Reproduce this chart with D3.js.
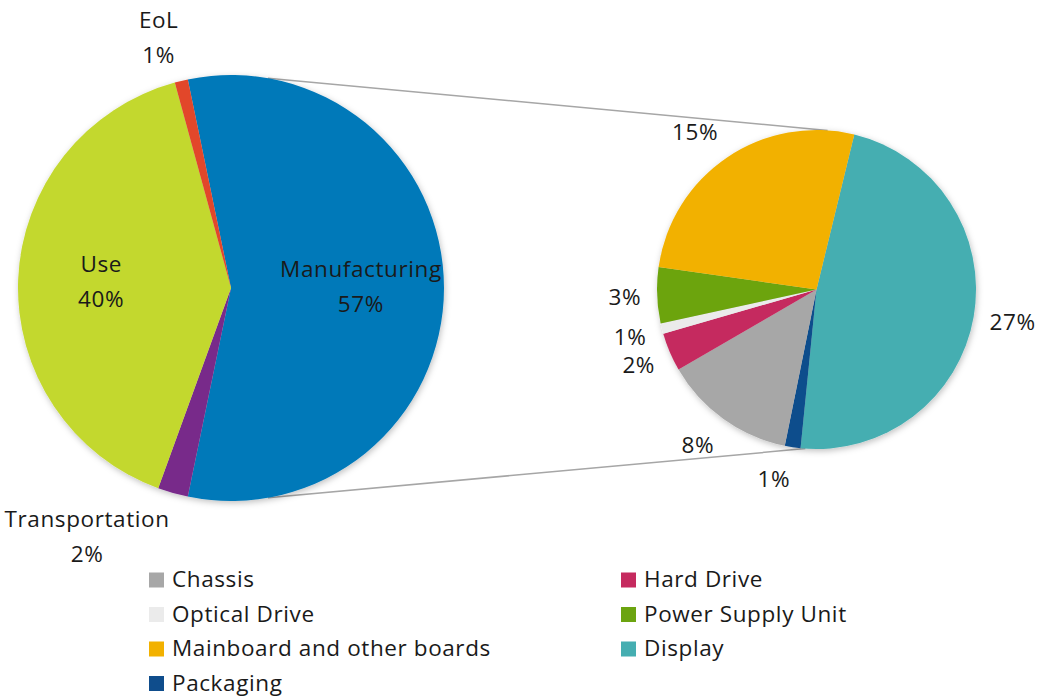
<!DOCTYPE html>
<html>
<head>
<meta charset="utf-8">
<script src="https://cdn.jsdelivr.net/npm/d3@7"></script>
<style>
  body { margin: 0; background: #fff; }
  text { font-family: "Open Sans", sans-serif; font-size: 22.5px; letter-spacing: 0.6px; fill: #1a1a1a; }
</style>
</head>
<body>
<div id="chart"></div>
<script>
// main pie, clockwise from the split-off slice
const mainCategories = ["Manufacturing", "Transportation", "Use", "EoL"];
const mainValues = [56.5, 2.3, 40.2, 1.0];
const mainLabels = ["57%", "2%", "40%", "1%"];
const mainColors = ["#0479b9", "#782a8a", "#c3d82f", "#e2472b"];

// second pie: breakdown of manufacturing, clockwise from Display
const subCategories = ["Display", "Packaging", "Chassis", "Hard Drive", "Optical Drive", "Power Supply Unit", "Mainboard and other boards"];
const subValues = [27.0, 0.9, 7.6, 2.2, 0.6, 3.2, 15.0];
const subLabels = ["27%", "1%", "8%", "2%", "1%", "3%", "15%"];
const subColors = ["#45aeb1", "#0f4d8c", "#a7a7a7", "#c52a5f", "#ebebeb", "#6ca410", "#f2b100"];

const legendOrder = ["Chassis", "Hard Drive", "Optical Drive", "Power Supply Unit", "Mainboard and other boards", "Display", "Packaging"];

const opt = {width: 1052, height: 698,
  main: {cx: 231, cy: 288, r: 213, gap: 12},
  sub: {cx: 816.5, cy: 289.5, r: 159.5, rot: 13.7, gap: 16}};

const rad = (d) => d * Math.PI / 180;

const svg = d3.select("#chart").append("svg")
  .attr("width", opt.width)
  .attr("height", opt.height);

const defs = svg.append("defs");
defs.append("filter").attr("id", "shadow")
  .attr("x", "-10%").attr("y", "-10%").attr("width", "120%").attr("height", "120%")
  .append("feDropShadow")
  .attr("dx", 1).attr("dy", 2).attr("stdDeviation", 3)
  .attr("flood-color", "#000").attr("flood-opacity", 0.25);

const mainColor = d3.scaleOrdinal().domain(mainCategories).range(mainColors);
const subColor = d3.scaleOrdinal().domain(subCategories).range(subColors);

// pies
const mainTotal = d3.sum(mainValues);
const mainStart = Math.PI / 2 - Math.PI * mainValues[0] / mainTotal;
const mainPie = d3.pie().sort(null).startAngle(mainStart).endAngle(mainStart + 2 * Math.PI);
const subStart = rad(opt.sub.rot);
const subPie = d3.pie().sort(null).startAngle(subStart).endAngle(subStart + 2 * Math.PI);

const mainArcs = mainPie(mainValues)
  .map((a, i) => Object.assign(a, {name: mainCategories[i], label: mainLabels[i]}));
const subArcs = subPie(subValues)
  .map((a, i) => Object.assign(a, {name: subCategories[i], label: subLabels[i]}));

const mainArc = d3.arc().innerRadius(0).outerRadius(opt.main.r);
const subArc = d3.arc().innerRadius(0).outerRadius(opt.sub.r);

// connector lines
const pt = (c, a) => [c.cx + c.r * Math.sin(rad(a)), c.cy - c.r * Math.cos(rad(a))];
const connectors = [[pt(opt.main, 10), pt(opt.sub, 4)], [pt(opt.main, 170), pt(opt.sub, 184)]];
svg.selectAll("line.conn")
  .data(connectors)
  .enter()
  .append("line")
  .attr("class", "conn")
  .attr("x1", d => d[0][0]).attr("y1", d => d[0][1])
  .attr("x2", d => d[1][0]).attr("y2", d => d[1][1])
  .attr("stroke", "#a6a6a6")
  .attr("stroke-width", 1.5);

const mainG = svg.append("g")
  .attr("transform", "translate(" + opt.main.cx + "," + opt.main.cy + ")")
  .attr("filter", "url(#shadow)");
mainG.selectAll("path")
  .data(mainArcs)
  .enter()
  .append("path")
  .attr("d", mainArc)
  .attr("fill", d => mainColor(d.name));

const subG = svg.append("g")
  .attr("transform", "translate(" + opt.sub.cx + "," + opt.sub.cy + ")")
  .attr("filter", "url(#shadow)");
subG.selectAll("path")
  .data(subArcs)
  .enter()
  .append("path")
  .attr("d", subArc)
  .attr("fill", d => subColor(d.name));

// labels
function addLabel(lines) {
  const t = svg.append("text").attr("text-anchor", "middle");
  lines.forEach((s, i) => {
    t.append("tspan").attr("x", 0).attr("dy", i === 0 ? 0 : 35).text(s);
  });
  return t;
}

function placeAt(t, x, y) {
  const bb = t.node().getBBox();
  t.attr("transform", "translate(" + (x - bb.x - bb.width / 2) + "," + (y - bb.y - bb.height / 2) + ")");
}

function placeOutside(t, c, d) {
  const a = (d.startAngle + d.endAngle) / 2;
  const bb = t.node().getBBox();
  const ax = c.cx + (c.r + c.gap) * Math.sin(a);
  const ay = c.cy - (c.r + c.gap) * Math.cos(a);
  placeAt(t, ax + Math.sign(Math.sin(a)) * bb.width / 2, ay - Math.cos(a) * bb.height / 2);
}

mainArcs.forEach(d => {
  const t = addLabel([d.name, d.label]);
  if (d.value > 10) {
    const a = (d.startAngle + d.endAngle) / 2;
    const rr = opt.main.r * 0.61;
    placeAt(t, opt.main.cx + rr * Math.sin(a), opt.main.cy - 2 - rr * Math.cos(a));
  } else {
    placeOutside(t, opt.main, d);
  }
});

subArcs.forEach(d => {
  placeOutside(addLabel([d.label]), opt.sub, d);
});

// legend
const legend = {x: [149, 621], y: 580, step: 34.5, box: 15, textPad: 8};
const leg = svg.selectAll("g.leg")
  .data(legendOrder)
  .enter()
  .append("g")
  .attr("class", "leg")
  .attr("transform", (d, i) => "translate(" + legend.x[i % 2] + "," + (legend.y + legend.step * Math.floor(i / 2)) + ")");
leg.append("rect")
  .attr("x", 0).attr("y", -legend.box / 2)
  .attr("width", legend.box).attr("height", legend.box)
  .attr("fill", d => subColor(d));
leg.append("text")
  .attr("x", legend.box + legend.textPad)
  .attr("dy", "0.33em")
  .text(d => d);
</script>
</body>
</html>
